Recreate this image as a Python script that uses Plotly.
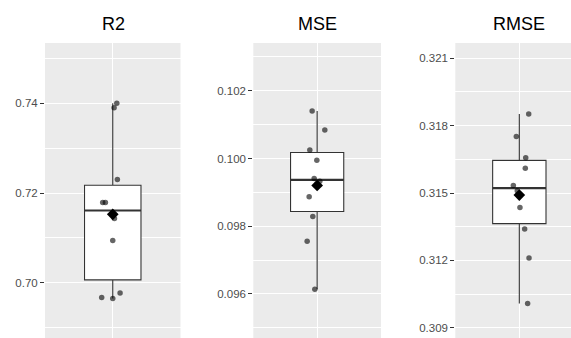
import numpy as np
import plotly.graph_objects as go

# ---------------- data ----------------
panels = ["R2", "MSE", "RMSE"]

r2_values = [0.7400, 0.7390, 0.7230, 0.7179, 0.7179, 0.7143, 0.7094, 0.6977, 0.6967, 0.6965]
r2_jitter = [0.036, 0.012, 0.041, -0.089, -0.065, 0.015, 0.000, 0.065, -0.098, 0.000]

mse_values = [0.10140, 0.10084, 0.10025, 0.09995, 0.09941, 0.09933, 0.09887, 0.09829, 0.09756, 0.09614]
mse_jitter = [-0.047, 0.072, -0.069, -0.003, -0.028, 0.025, -0.075, -0.041, -0.094, -0.022]

rmse_values = [0.31852, 0.31752, 0.31657, 0.31610, 0.31533, 0.31510, 0.31435, 0.31340, 0.31210, 0.31008]
rmse_jitter = [0.088, -0.028, 0.060, 0.056, -0.056, -0.019, 0.006, 0.050, 0.091, 0.078]

r2_ticks = [0.70, 0.72, 0.74]
r2_ticklabels = ["0.70", "0.72", "0.74"]
mse_ticks = [0.096, 0.098, 0.100, 0.102]
mse_ticklabels = ["0.096", "0.098", "0.100", "0.102"]
rmse_ticks = [0.309, 0.312, 0.315, 0.318, 0.321]
rmse_ticklabels = ["0.309", "0.312", "0.315", "0.318", "0.321"]

# ---------------- layout constants ----------------
W, H = 571, 338
FONT = "Liberation Sans, Arial, sans-serif"
panel_px = [(45.0, 180.5), (253.3, 381.0), (455.3, 571.0)]
title_cx = [113.0, 317.3, 519.3]
x_ranges = [[0.4, 1.6], [0.4, 1.6], [0.4, 0.4 + (571.0 - 455.3) / 106.7]]
y_ranges = [[0.68767, 0.75345], [0.094701, 0.103408], [0.308541, 0.321682]]
y_top = (H - 43.0) / H
minor_step = [0.01, 0.001, 0.0015]

series = [
    (r2_values, r2_jitter, r2_ticks, r2_ticklabels),
    (mse_values, mse_jitter, mse_ticks, mse_ticklabels),
    (rmse_values, rmse_jitter, rmse_ticks, rmse_ticklabels),
]

fig = go.Figure()
annotations = []

for i, (vals, jit, ticks, labels) in enumerate(series):
    k = "" if i == 0 else str(i + 1)
    xa, ya = "x" + k, "y" + k
    v = np.array(vals)
    q1, med, q3 = np.percentile(v, [25, 50, 75])
    iqr = q3 - q1
    lo = v[v >= q1 - 1.5 * iqr].min()
    hi = v[v <= q3 + 1.5 * iqr].max()

    fig.add_trace(go.Box(
        x=[1], q1=[q1], median=[med], q3=[q3], lowerfence=[lo], upperfence=[hi],
        width=0.5, whiskerwidth=0, fillcolor="white",
        line=dict(color="#333333", width=1.1),
        boxpoints=False, hoverinfo="skip", showlegend=False,
        xaxis=xa, yaxis=ya,
    ))
    # thicker median line (ggplot fatten)
    fig.add_trace(go.Scatter(
        x=[0.75, 1.25], y=[med, med], mode="lines",
        line=dict(color="#333333", width=2.2),
        showlegend=False, hoverinfo="skip", xaxis=xa, yaxis=ya,
    ))
    # mean diamond
    fig.add_trace(go.Scatter(
        x=[1], y=[v.mean()], mode="markers",
        marker=dict(symbol="diamond", size=9, color="black"),
        showlegend=False, hoverinfo="skip", xaxis=xa, yaxis=ya,
    ))
    # jittered points
    fig.add_trace(go.Scatter(
        x=[1 + j for j in jit], y=vals, mode="markers",
        marker=dict(size=5.5, color="rgba(0,0,0,0.6)", line=dict(width=0)),
        showlegend=False, hoverinfo="skip", xaxis=xa, yaxis=ya,
    ))

    x0, x1 = panel_px[i]
    fig.update_layout(**{
        "xaxis" + k: dict(
            domain=[x0 / W, x1 / W], range=x_ranges[i], anchor=ya,
            tickvals=[1], showticklabels=False, ticks="",
            showgrid=True, gridcolor="white", gridwidth=1.1,
            zeroline=False, showline=False, fixedrange=True, automargin=False,
        ),
        "yaxis" + k: dict(
            domain=[0, y_top], range=y_ranges[i], anchor=xa,
            tickvals=ticks, ticktext=labels, ticks="outside", ticklen=4,
            tickwidth=1, tickcolor="#333333",
            tickfont=dict(family=FONT, size=11.5, color="#4D4D4D"),
            showgrid=True, gridcolor="white", gridwidth=1.1,
            minor=dict(dtick=minor_step[i], tick0=ticks[0], showgrid=True,
                       gridcolor="white", gridwidth=0.55, ticks=""),
            zeroline=False, showline=False, fixedrange=True, automargin=False,
        ),
    })
    annotations.append(dict(
        text=panels[i], xref="paper", yref="paper",
        x=title_cx[i] / W,
        y=(H - 24.5) / H, xanchor="center", yanchor="middle",
        showarrow=False, font=dict(family=FONT, size=18, color="black"),
    ))

fig.update_layout(
    width=W, height=H,
    margin=dict(l=0, r=0, t=0, b=0, autoexpand=False),
    paper_bgcolor="white", plot_bgcolor="#EBEBEB",
    annotations=annotations, showlegend=False,
)

fig.write_html(
    "out.html",
    config={"displayModeBar": False},
    post_script="document.body.style.margin='0px';document.body.style.overflow='hidden';",
)
